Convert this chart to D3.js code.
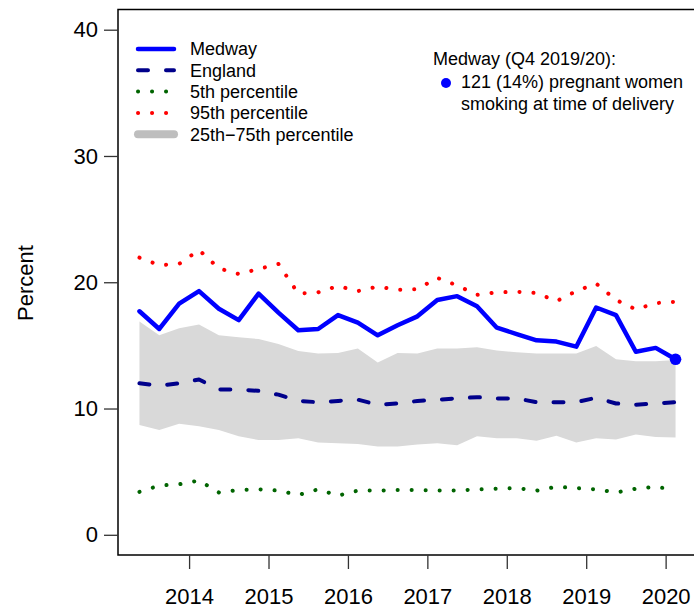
<!DOCTYPE html>
<html>
<head>
<meta charset="utf-8">
<script src="https://cdn.jsdelivr.net/npm/d3@7"></script>
<style>
	body { margin: 0; background: #fff; }
	svg { display: block; font-family: "Liberation Sans", Arial, sans-serif; }
</style>
</head>
<body>
<div id="chart"></div>
<script>

// quarters (financial year, Q1 = Apr-Jun)
const quarters = [
	"2013/14 Q1","2013/14 Q2","2013/14 Q3","2013/14 Q4",
	"2014/15 Q1","2014/15 Q2","2014/15 Q3","2014/15 Q4",
	"2015/16 Q1","2015/16 Q2","2015/16 Q3","2015/16 Q4",
	"2016/17 Q1","2016/17 Q2","2016/17 Q3","2016/17 Q4",
	"2017/18 Q1","2017/18 Q2","2017/18 Q3","2017/18 Q4",
	"2018/19 Q1","2018/19 Q2","2018/19 Q3","2018/19 Q4",
	"2019/20 Q1","2019/20 Q2","2019/20 Q3","2019/20 Q4"
];

const medway = [17.7,16.3,18.3,19.3,17.9,17.0,19.1,17.6,16.2,16.3,17.4,16.8,15.8,16.6,
	17.3,18.6,18.9,18.1,16.4,15.9,15.4,15.3,14.9,18.0,17.4,14.5,14.8,13.9];
const england = [12.0,11.8,12.0,12.3,11.5,11.5,11.4,11.1,10.6,10.5,10.6,10.7,10.3,10.4,
	10.6,10.7,10.8,10.9,10.8,10.8,10.5,10.5,10.5,10.85,10.4,10.3,10.4,10.5];
const p5 = [3.4,3.9,4.0,4.3,3.35,3.55,3.6,3.5,3.15,3.6,3.1,3.5,3.5,3.55,
	3.55,3.5,3.5,3.6,3.65,3.7,3.5,3.8,3.7,3.6,3.35,3.65,3.8,3.55];
const p95 = [21.95,21.35,21.45,22.55,21.1,20.65,21.05,21.45,19.1,19.2,19.7,19.3,19.65,19.4,
	19.45,20.35,19.75,19.0,19.2,19.25,19.15,18.5,19.3,19.9,18.6,17.85,18.35,18.45];
const p25 = [8.7,8.3,8.8,8.6,8.3,7.8,7.5,7.5,7.65,7.3,7.25,7.2,7.0,7.0,
	7.15,7.25,7.1,7.8,7.65,7.65,7.45,7.85,7.3,7.65,7.55,7.95,7.75,7.7];
const p75 = [16.9,15.8,16.35,16.65,15.8,15.65,15.5,15.1,14.55,14.35,14.4,14.75,13.65,14.4,
	14.35,14.75,14.75,14.85,14.6,14.45,14.35,14.35,14.35,14.95,13.9,13.75,13.75,13.85];

const yTicks = [0,10,20,30,40];
const xTicks = [2014,2015,2016,2017,2018,2019,2020];

const legendLabels = ["Medway","England","5th percentile","95th percentile","25th\u221275th percentile"];
const noteLines = ["Medway (Q4 2019/20):","121 (14%) pregnant women","smoking at time of delivery"];

// mid point of each quarter as decimal year
function quarterTime(q){
	const fy = +q.slice(0,4);
	const n = +q.slice(-1);
	return fy + 0.25 + (n - 1) * 0.25 + 0.125;
}

const data = quarters.map((q,i)=>({
	t: quarterTime(q),
	medway: medway[i],
	england: england[i],
	p5: p5[i],
	p95: p95[i],
	p25: p25[i],
	p75: p75[i]
}));

const width = 694;
const height = 608;
const plotL = 118, plotR = 697, plotT = 9.5, plotB = 555;

const tExt = d3.extent(data, d=>d.t);
const pad = (tExt[1] - tExt[0]) * 0.04;

const sx = d3.scaleLinear()
	.domain([tExt[0] - pad, tExt[1] + pad])
	.range([plotL, plotR]);

const sy = d3.scaleLinear()
	.domain([-1.6, 41.6])
	.range([plotB, plotT]);

const svg = d3.select("#chart")
	.append("svg")
	.attr("width", width)
	.attr("height", height);

// iqr band
const area = d3.area()
	.x(d=>sx(d.t))
	.y0(d=>sy(d.p25))
	.y1(d=>sy(d.p75));

svg.append("path")
	.datum(data)
	.attr("d", area)
	.attr("fill", "#d9d9d9");

const series = [
	{key:"p5", color:"#006400", dash:"0.1 13.9"},
	{key:"p95", color:"#ff0000", dash:"0.1 13.9"},
	{key:"england", color:"#00008b", dash:"10 18"},
	{key:"medway", color:"#0000ff", dash:null}
];

series.forEach(s=>{
	const line = d3.line()
		.x(d=>sx(d.t))
		.y(d=>sy(d[s.key]));
	svg.append("path")
		.datum(data)
		.attr("d", line)
		.attr("fill", "none")
		.attr("stroke", s.color)
		.attr("stroke-width", s.key == "medway" ? 4.5 : 4)
		.attr("stroke-linecap", "round")
		.attr("stroke-linejoin", "round")
		.attr("stroke-dasharray", s.dash);
});

const last = data[data.length - 1];
svg.append("circle")
	.attr("cx", sx(last.t))
	.attr("cy", sy(last.medway))
	.attr("r", 5.8)
	.attr("fill", "#0000ff");

// box
svg.append("rect")
	.attr("x", plotL)
	.attr("y", plotT)
	.attr("width", plotR - plotL)
	.attr("height", plotB - plotT)
	.attr("fill", "none")
	.attr("stroke", "#000")
	.attr("stroke-width", 1.5);

// axes
const yAxis = d3.axisLeft(sy)
	.tickValues(yTicks)
	.tickSize(14)
	.tickPadding(6);

svg.append("g")
	.attr("transform", `translate(${plotL},0)`)
	.call(yAxis)
	.call(g=>g.select(".domain").remove())
	.call(g=>g.selectAll("text").attr("font-size", 22).attr("font-family", null).attr("fill", "#000"))
	.call(g=>g.selectAll("line").attr("stroke", "#333").attr("stroke-width", 1.3));

const xAxis = d3.axisBottom(sx)
	.tickValues(xTicks)
	.tickFormat(d3.format("d"))
	.tickSize(14)
	.tickPadding(19);

svg.append("g")
	.attr("transform", `translate(0,${plotB})`)
	.call(xAxis)
	.call(g=>g.select(".domain").remove())
	.call(g=>g.selectAll("text").attr("font-size", 22).attr("font-family", null).attr("fill", "#000"))
	.call(g=>g.selectAll("line").attr("stroke", "#333").attr("stroke-width", 1.3));

svg.append("text")
	.attr("transform", "translate(33,283) rotate(-90)")
	.attr("text-anchor", "middle")
	.attr("font-size", 22)
	.text("Percent");

// legend
const legendColors = ["#0000ff","#00008b","#006400","#ff0000","#bebebe"];
const legendDash = [null,"10 18","0.1 13.9","0.1 13.9",null];
const legendWidth = [4.5,4,4,4,8];

const lg = svg.append("g")
	.attr("transform", "translate(138,49)");

legendLabels.forEach((lab,i)=>{
	const row = lg.append("g").attr("transform", `translate(0,${i*21.3})`);
	row.append("line")
		.attr("x1", 0).attr("x2", 36)
		.attr("stroke", legendColors[i])
		.attr("stroke-width", legendWidth[i])
		.attr("stroke-linecap", "round")
		.attr("stroke-dasharray", legendDash[i]);
	row.append("text")
		.attr("x", 52)
		.attr("dy", "0.35em")
		.attr("font-size", 18)
		.text(lab);
});

// note
const note = svg.append("g");
noteLines.forEach((t,i)=>{
	note.append("text")
		.attr("x", i == 0 ? 433 : 461)
		.attr("y", [59,82,104][i])
		.attr("dy", "0.35em")
		.attr("font-size", 18)
		.text(t);
});
note.append("circle")
	.attr("cx", 446)
	.attr("cy", 83)
	.attr("r", 5)
	.attr("fill", "#0000ff");

</script>
</body>
</html>
